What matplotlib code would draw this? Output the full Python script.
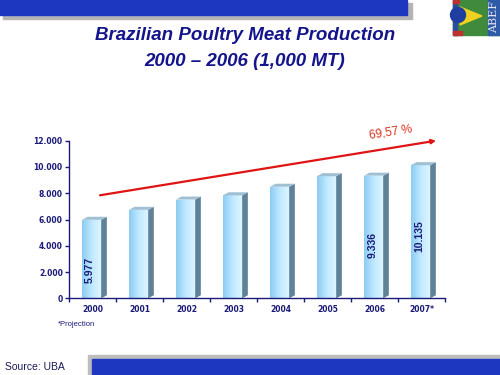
import numpy as np
import matplotlib
matplotlib.use("Agg")
from matplotlib import pyplot as plt
from matplotlib.patches import Rectangle, Polygon, Circle

# data (1,000 MT)
years = ["2000", "2001", "2002", "2003", "2004", "2005", "2006", "2007*"]
production = [5977, 6736, 7517, 7843, 8494, 9297, 9336, 10135]
labelled = {0: "5.977", 6: "9.336", 7: "10.135"}
yticks = [0, 2000, 4000, 6000, 8000, 10000, 12000]
ytick_labels = ["0", "2.000", "4.000", "6.000", "8.000", "10.000", "12.000"]
growth_text = "69,57 %"

navy = "#1a1a78"
slide_blue = "#1e37c0"
narrow = ["Liberation Sans Narrow", "Liberation Sans", "DejaVu Sans"]

W, H = 500, 375
fig = plt.figure(figsize=(5, 3.75), dpi=100)

# slide decorations in pixel coords
bg = fig.add_axes([0, 0, 1, 1])
bg.set_xlim(0, W)
bg.set_ylim(H, 0)
bg.axis("off")
bg.add_patch(Rectangle((3, 3), 409, 16, color="#b4b4b4", zorder=1))
bg.add_patch(Rectangle((0, 0), 407, 15, color=slide_blue, zorder=2))
bg.add_patch(Rectangle((88, 355), 412, 20, color="#bdbdbd", zorder=1))
bg.add_patch(Rectangle((92, 359), 408, 16, color=slide_blue, zorder=2))

# logo
bg.add_patch(Rectangle((453, 0), 47, 35, color="#3f8a3c", zorder=2))
bg.add_patch(Rectangle((453, 0), 4, 35, color="#2b4f9a", zorder=3))
bg.add_patch(Rectangle((488, 0), 12, 35, color="#2f5aa8", zorder=3))
bg.add_patch(Polygon([[460, 7], [482, 16], [460, 25]], color="#f0d020", zorder=3))
bg.add_patch(Circle((458, 15), 7.5, color="#1f3fa0", zorder=4))
bg.add_patch(Rectangle((453, 0), 6, 3, color="#c03030", zorder=5))
bg.add_patch(Rectangle((453, 31), 9, 4, color="#c03030", zorder=5))
bg.text(494.5, 17, "ABEF", rotation=90, ha="center", va="center", color="#e8e8f0",
        fontsize=8, family="DejaVu Serif", zorder=6)

# titles
title_kw = dict(ha="center", va="center", color="#14148c", fontsize=13.5,
                fontweight="bold", fontstyle="italic", family="Liberation Sans")
bg.text(245, 36, "Brazilian Poultry Meat Production", **title_kw)
bg.text(245, 62, "2000 \u2013 2006 (1,000 MT)", **title_kw)

bg.text(58, 324, "*Projection", ha="left", va="center", color=navy,
        fontsize=5.5, family=narrow)
bg.text(5, 367, "Source: UBA", ha="left", va="center", color="#1a1a5a",
        fontsize=7.5, family="Liberation Sans")

# chart
ax = fig.add_axes([69 / W, 1 - 298.3 / H, 376 / W, 157.6 / H])
ax.set_xlim(-0.5, len(years) - 0.5)
ax.set_ylim(0, 12000)
ax.patch.set_alpha(0)
for s in ["top", "right"]:
    ax.spines[s].set_visible(False)
for s in ["left", "bottom"]:
    ax.spines[s].set_color(navy)
    ax.spines[s].set_linewidth(1.0)

bw = 0.41
dx, dy = 0.12, 230
grad = np.linspace(0, 1, 64).reshape(1, -1)
cmap = matplotlib.colors.LinearSegmentedColormap.from_list(
    "barface", ["#8ccbf2", "#c0e9ff", "#e0f6ff"])
label_shift = [200, 0, 0, 0, 0, 0, 400, 900]
for i, v in enumerate(production):
    x0 = i - bw / 2 - 0.02
    x1 = x0 + bw
    face = Rectangle((x0, 0), bw, v, facecolor="none", edgecolor="none")
    ax.add_patch(face)
    im = ax.imshow(grad, extent=(x0, x1, 0, v), aspect="auto", cmap=cmap,
                   zorder=2, interpolation="bilinear")
    im.set_clip_path(face)
    ax.add_patch(Polygon([[x1, 0], [x1 + dx, dy], [x1 + dx, v + dy], [x1, v]],
                         closed=True, facecolor="#5f8299", edgecolor="none", zorder=2))
    ax.add_patch(Polygon([[x0, v], [x1, v], [x1 + dx, v + dy], [x0 + dx, v + dy]],
                         closed=True, facecolor="#9fbfd3", edgecolor="none", zorder=2))
    if i in labelled:
        ax.text(i - 0.05, v * 0.5 + label_shift[i], labelled[i],
                rotation=90, ha="center", va="top", color=navy, fontsize=7.5,
                fontweight="bold", family=narrow, zorder=5)

ax.set_yticks(yticks)
ax.set_yticklabels(ytick_labels)
ax.set_xticks(np.arange(len(years) + 1) - 0.5)
ax.set_xticklabels([])
ax.set_xticks(np.arange(len(years)), minor=True)
ax.set_xticklabels(years, minor=True)
ax.tick_params(axis="y", colors=navy, length=3, width=1, labelsize=5.5, pad=1.5)
ax.tick_params(axis="x", which="major", colors=navy, length=3, width=1)
ax.tick_params(axis="x", which="minor", length=0, labelsize=5.5, pad=5, colors=navy)
for lab in ax.get_yticklabels() + ax.get_xticklabels(minor=True):
    lab.set_fontweight("bold")
    lab.set_family("DejaVu Sans")

# growth arrow
ax.annotate("", xy=(7.31, 12000), xytext=(0.16, 7845),
            arrowprops=dict(arrowstyle="-|>", color="#e01414", lw=1.6,
                            mutation_scale=6, shrinkA=0, shrinkB=0),
            annotation_clip=False, zorder=6)
ax.text(6.35, 12650, growth_text, rotation=9, ha="center", va="center",
        color="#d8301c", fontsize=8.5, family=narrow, clip_on=False)

fig.savefig("out.png", dpi=100)
